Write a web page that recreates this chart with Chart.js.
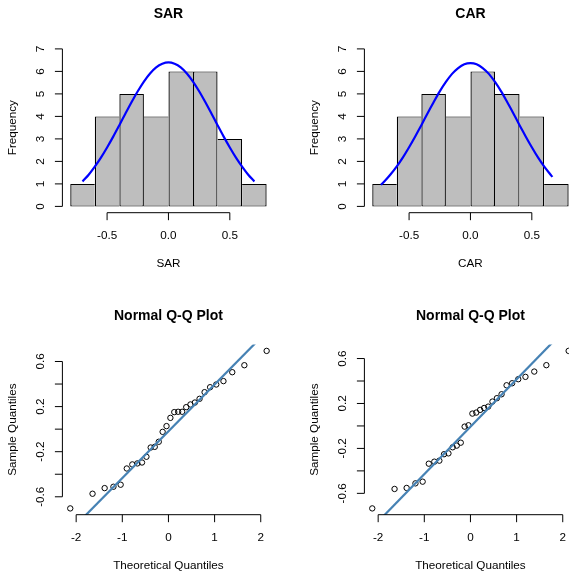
<!DOCTYPE html>
<html>
<head>
<meta charset="utf-8">
<script src="https://cdn.jsdelivr.net/npm/chart.js@4"></script>
<style>
  html, body { margin: 0; padding: 0; background: #fff; overflow: hidden; width: 569px; height: 573px; }
  canvas { position: absolute; }
</style>
</head>
<body>
<canvas id="sarHist" width="302" height="302" style="left:0;top:0"></canvas>
<canvas id="carHist" width="302" height="302" style="left:302px;top:0"></canvas>
<canvas id="sarQQ" width="302" height="302" style="left:0;top:302px"></canvas>
<canvas id="carQQ" width="302" height="302" style="left:302px;top:302px"></canvas>
<script>
// histogram bins
const BREAKS = [-0.8, -0.6, -0.4, -0.2, 0, 0.2, 0.4, 0.6, 0.8];
const SAR_COUNTS = [1, 4, 5, 4, 6, 6, 3, 1];
const CAR_COUNTS = [1, 4, 5, 4, 6, 5, 4, 1];

// fitted normal curves
const SAR_CURVE_X = [-0.7, -0.65, -0.6, -0.55, -0.5, -0.45, -0.4, -0.35, -0.3, -0.25, -0.2, -0.15, -0.1, -0.05, 0,
  0.05, 0.1, 0.15, 0.2, 0.25, 0.3, 0.35, 0.4, 0.45, 0.5, 0.55, 0.6, 0.65, 0.7];
const SAR_CURVE_Y = [1.11, 1.41, 1.77, 2.17, 2.62, 3.10, 3.61, 4.13, 4.64, 5.12, 5.55, 5.91, 6.18, 6.34, 6.40,
  6.34, 6.18, 5.91, 5.55, 5.12, 4.64, 4.13, 3.61, 3.10, 2.62, 2.17, 1.77, 1.41, 1.11];
const CAR_CURVE_X = [-0.73, -0.7, -0.65, -0.6, -0.55, -0.5, -0.45, -0.4, -0.35, -0.3, -0.25, -0.2, -0.15, -0.1, -0.05, 0,
  0.05, 0.1, 0.15, 0.2, 0.25, 0.3, 0.35, 0.4, 0.45, 0.5, 0.55, 0.6, 0.65, 0.668];
const CAR_CURVE_Y = [0.96, 1.12, 1.43, 1.78, 2.18, 2.63, 3.11, 3.61, 4.13, 4.63, 5.11, 5.53, 5.89, 6.15, 6.32, 6.37,
  6.32, 6.15, 5.89, 5.53, 5.11, 4.63, 4.13, 3.61, 3.11, 2.63, 2.18, 1.78, 1.43, 1.31];

// Q-Q plots
const THEO_Q = [-2.128, -1.645, -1.383, -1.192, -1.036, -0.903, -0.783, -0.674, -0.573, -0.477, -0.385, -0.297, -0.210, -0.126, -0.042,
  0.042, 0.126, 0.210, 0.297, 0.385, 0.477, 0.573, 0.674, 0.783, 0.903, 1.036, 1.192, 1.383, 1.645, 2.128];
const SAR_Q = [-0.703, -0.573, -0.523, -0.511, -0.493, -0.349, -0.313, -0.304, -0.296, -0.245, -0.163, -0.157, -0.112, -0.024, 0.027,
  0.100, 0.151, 0.154, 0.154, 0.195, 0.219, 0.236, 0.269, 0.328, 0.372, 0.396, 0.426, 0.505, 0.567, 0.694];
const CAR_Q = [-0.734, -0.561, -0.552, -0.511, -0.496, -0.336, -0.318, -0.309, -0.252, -0.244, -0.190, -0.175, -0.149, -0.006, 0.006,
  0.110, 0.119, 0.143, 0.160, 0.172, 0.217, 0.247, 0.282, 0.362, 0.380, 0.416, 0.437, 0.484, 0.541, 0.668];
const QQLINE_X = [-2.4, 2.4];
const SAR_QQLINE_Y = [-1.015, 0.977];
const CAR_QQLINE_Y = [-1.020, 1.006];

// axis ticks
const HIST_X_TICKS = [-0.5, 0, 0.5];
const HIST_X_LABELS = ['-0.5', '0.0', '0.5'];
const HIST_Y_TICKS = [0, 1, 2, 3, 4, 5, 6, 7];
const HIST_Y_LABELS = ['0', '1', '2', '3', '4', '5', '6', '7'];
const QQ_X_TICKS = [-2, -1, 0, 1, 2];
const QQ_X_LABELS = ['-2', '-1', '0', '1', '2'];
const QQ_Y_TICKS = [-0.6, -0.4, -0.2, 0, 0.2, 0.4, 0.6];
const QQ_Y_LABELS = ['-0.6', '', '-0.2', '', '0.2', '', '0.6'];

const FONT = '"Liberation Sans", Arial, Helvetica, sans-serif';
const TICK = 7.5;

// R style 4% range extension
function pad(lo, hi) {
  const d = (hi - lo) * 0.04;
  return [lo - d, hi + d];
}

const zip = (xs, ys) => xs.map((x, i) => ({ x, y: ys[i] }));

// axes, tick labels and titles drawn the R way (axis only spans the ticks, no box)
function rAxes(info) {
  return {
    id: 'rAxes',
    afterDraw(chart) {
      const { ctx, chartArea: a } = chart;
      const xs = chart.scales.x, ys = chart.scales.y;
      ctx.save();
      ctx.strokeStyle = '#000';
      ctx.fillStyle = '#000';
      ctx.lineWidth = 1;

      const yb = a.bottom;
      ctx.beginPath();
      ctx.moveTo(xs.getPixelForValue(info.xTicks[0]), yb);
      ctx.lineTo(xs.getPixelForValue(info.xTicks[info.xTicks.length - 1]), yb);
      info.xTicks.forEach(v => {
        const px = xs.getPixelForValue(v);
        ctx.moveTo(px, yb);
        ctx.lineTo(px, yb + TICK);
      });
      const xl = a.left;
      ctx.moveTo(xl, ys.getPixelForValue(info.yTicks[0]));
      ctx.lineTo(xl, ys.getPixelForValue(info.yTicks[info.yTicks.length - 1]));
      info.yTicks.forEach(v => {
        const py = ys.getPixelForValue(v);
        ctx.moveTo(xl, py);
        ctx.lineTo(xl - TICK, py);
      });
      ctx.stroke();

      ctx.font = '11.7px ' + FONT;
      ctx.textAlign = 'center';
      ctx.textBaseline = 'alphabetic';
      info.xTicks.forEach((v, i) => ctx.fillText(info.xLabels[i], xs.getPixelForValue(v), yb + 26.5));
      ctx.fillText(info.xTitle, (a.left + a.right) / 2, yb + 54);

      info.yTicks.forEach((v, i) => {
        if (!info.yLabels[i]) return;
        ctx.save();
        ctx.translate(xl - 18.5, ys.getPixelForValue(v));
        ctx.rotate(-Math.PI / 2);
        ctx.fillText(info.yLabels[i], 0, 0);
        ctx.restore();
      });
      ctx.save();
      ctx.translate(xl - 46.8, (a.top + a.bottom) / 2);
      ctx.rotate(-Math.PI / 2);
      ctx.fillText(info.yTitle, 0, 0);
      ctx.restore();

      ctx.font = 'bold 14px ' + FONT;
      ctx.fillText(info.title, (a.left + a.right) / 2, a.top - 24.4);
      ctx.restore();
    }
  };
}

const baseOptions = (xr, yr, xTicks, yTicks) => ({
  responsive: false,
  animation: false,
  devicePixelRatio: 1,
  events: [],
  layout: { padding: { left: 62.4, top: 42.6, right: 27.5, bottom: 89.3 } },
  plugins: { legend: { display: false }, tooltip: { enabled: false }, title: { display: false } },
  scales: {
    x: { type: 'linear', display: false, offset: false, min: xr[0], max: xr[1],
         afterBuildTicks: s => { s.ticks = xTicks.map(value => ({ value })); } },
    y: { type: 'linear', display: false, min: yr[0], max: yr[1],
         afterBuildTicks: s => { s.ticks = yTicks.map(value => ({ value })); } }
  }
});

function histChart(id, name, counts, curveX, curveY) {
  const mids = counts.map((c, i) => (BREAKS[i] + BREAKS[i + 1]) / 2);
  const n = counts.length;
  new Chart(document.getElementById(id), {
    type: 'bar',
    data: {
      datasets: [
        {
          type: 'line',
          order: 1,
          data: zip(curveX, curveY),
          borderColor: '#0000FF',
          borderWidth: 2.2,
          pointRadius: 0,
          tension: 0.3,
          fill: false
        },
        {
          order: 2,
          data: zip(mids, counts),
          backgroundColor: '#BEBEBE',
          borderColor: '#000',
          borderSkipped: false,
          inflateAmount: 0,
          barPercentage: 1,
          categoryPercentage: 1,
          // shared edges drawn once, by the taller neighbour
          borderWidth: ctx => {
            const i = ctx.dataIndex;
            return {
              top: 1, bottom: 1,
              left: (i === 0 || counts[i] >= counts[i - 1]) ? 1.3 : 0,
              right: (i === n - 1 || counts[i] > counts[i + 1]) ? 1.3 : 0
            };
          }
        }
      ]
    },
    options: baseOptions(pad(BREAKS[0], BREAKS[BREAKS.length - 1]), pad(0, 7), HIST_X_TICKS, HIST_Y_TICKS),
    plugins: [rAxes({
      title: name, xTitle: name, yTitle: 'Frequency',
      xTicks: HIST_X_TICKS, xLabels: HIST_X_LABELS, yTicks: HIST_Y_TICKS, yLabels: HIST_Y_LABELS
    })]
  });
}

function qqChart(id, sample, lineY) {
  new Chart(document.getElementById(id), {
    type: 'scatter',
    data: {
      datasets: [
        {
          data: zip(QQLINE_X, lineY),
          showLine: true,
          borderColor: '#4682B4',
          borderWidth: 2.2,
          pointRadius: 0,
          clip: 0
        },
        {
          data: zip(THEO_Q, sample),
          pointStyle: 'circle',
          pointRadius: 2.7,
          pointBorderWidth: 1,
          pointBorderColor: '#000',
          pointBackgroundColor: 'rgba(0,0,0,0)'
        }
      ]
    },
    options: baseOptions(pad(Math.min(...THEO_Q), Math.max(...THEO_Q)),
      pad(Math.min(...sample), Math.max(...sample)), QQ_X_TICKS, QQ_Y_TICKS),
    plugins: [rAxes({
      title: 'Normal Q-Q Plot', xTitle: 'Theoretical Quantiles', yTitle: 'Sample Quantiles',
      xTicks: QQ_X_TICKS, xLabels: QQ_X_LABELS, yTicks: QQ_Y_TICKS, yLabels: QQ_Y_LABELS
    })]
  });
}

histChart('sarHist', 'SAR', SAR_COUNTS, SAR_CURVE_X, SAR_CURVE_Y);
histChart('carHist', 'CAR', CAR_COUNTS, CAR_CURVE_X, CAR_CURVE_Y);
qqChart('sarQQ', SAR_Q, SAR_QQLINE_Y);
qqChart('carQQ', CAR_Q, CAR_QQLINE_Y);
</script>
</body>
</html>
